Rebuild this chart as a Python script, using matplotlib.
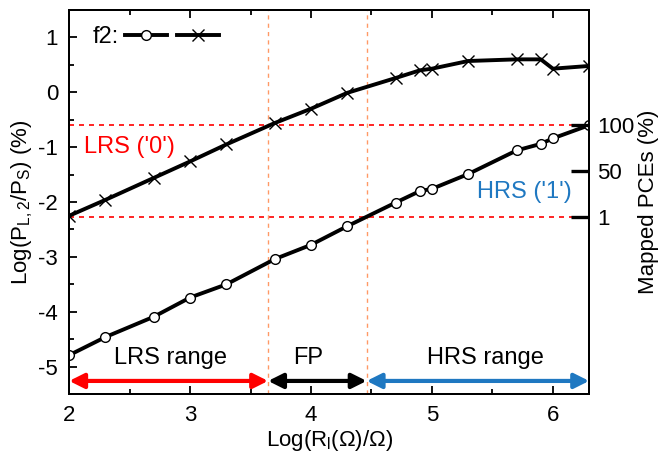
import numpy as np
import matplotlib.pyplot as plt
from matplotlib.legend_handler import HandlerTuple
from matplotlib.ticker import MultipleLocator

plt.rcParams['font.family'] = ['Liberation Sans', 'DejaVu Sans']
plt.rcParams['font.size'] = 16
plt.rcParams['axes.unicode_minus'] = False
plt.rcParams['mathtext.fontset'] = 'custom'
plt.rcParams['mathtext.rm'] = 'Liberation Sans'
plt.rcParams['mathtext.it'] = 'Liberation Sans'

# Log(R_l) values
log_r = [2.0, 2.3, 2.7, 3.0, 3.3, 3.7, 4.0, 4.3, 4.7, 4.9, 5.0, 5.3, 5.7, 5.9, 6.0, 6.3]
# f2, circle series
f2_circ = [-4.79, -4.46, -4.09, -3.74, -3.50, -3.04, -2.78, -2.44, -2.01, -1.80,
           -1.76, -1.49, -1.06, -0.94, -0.84, -0.60]
# f2, cross series
f2_cross = [-2.25, -1.96, -1.56, -1.26, -0.95, -0.56, -0.30, -0.01, 0.26, 0.40,
            0.43, 0.57, 0.60, 0.60, 0.43, 0.48]

lrs_level = -0.60
hrs_level = -2.27
fp_lo = 3.645
fp_hi = 4.46
xmin, xmax = 2.0, 6.3
ymin, ymax = -5.5, 1.5
pce_ticks = [1, 50, 100]

fig = plt.figure(figsize=(6.59, 4.53), dpi=100)
ax = fig.add_axes([0.105, 0.130, 0.789, 0.848])

ax.axhline(lrs_level, color='red', ls=(0, (3, 3)), lw=1.2, zorder=1)
ax.axhline(hrs_level, color='red', ls=(0, (3, 3)), lw=1.2, zorder=1)
ax.axvline(fp_lo, color='#ff9966', ls=(0, (3, 3)), lw=1.0, zorder=1)
ax.axvline(fp_hi, color='#ff9966', ls=(0, (3, 3)), lw=1.0, zorder=1)

l1, = ax.plot(log_r, f2_circ, color='black', lw=2.8, marker='o', ms=7,
              mfc='white', mec='black', mew=1.0, zorder=3)
l2, = ax.plot(log_r, f2_cross, color='black', lw=2.8, marker='x', ms=9,
              mew=1.0, zorder=3)

ax.set_xlim(xmin, xmax)
ax.set_ylim(ymin, ymax)
ax.xaxis.set_major_locator(MultipleLocator(1))
ax.xaxis.set_minor_locator(MultipleLocator(0.5))
ax.yaxis.set_major_locator(MultipleLocator(1))
ax.yaxis.set_minor_locator(MultipleLocator(0.5))
ax.tick_params(which='both', direction='in', top=True, right=False, width=1.3)
ax.tick_params(which='major', length=6, pad=8, labelsize=16)
ax.tick_params(which='minor', length=3.5)
for s in ax.spines.values():
    s.set_linewidth(1.4)

ax.set_xlabel(r'Log(R$_\mathregular{l}$($\Omega$)/$\Omega$)', labelpad=1, fontsize=16)
ax.set_ylabel(r'Log(P$_\mathregular{L,2}$/P$_\mathregular{S}$) (%)', labelpad=2, fontsize=16)

# range arrows
arrow_y = -5.26
for a, b, c in [(xmin, fp_lo, 'red'), (fp_lo, fp_hi, 'black'), (fp_hi, xmax, '#1f78c1')]:
    ax.annotate('', xy=(a, arrow_y), xytext=(b, arrow_y),
                arrowprops=dict(arrowstyle='<|-|>', color=c, lw=3,
                                mutation_scale=22, shrinkA=0, shrinkB=0))
ax.text(2.84, -4.84, 'LRS range', ha='center', va='center', fontsize=17)
ax.text(3.98, -4.84, 'FP', ha='center', va='center', fontsize=17)
ax.text(5.44, -4.84, 'HRS range', ha='center', va='center', fontsize=17)

ax.text(2.12, -1.0, "LRS ('0')", color='red', ha='left', va='center', fontsize=17)
ax.text(5.37, -1.82, "HRS ('1')", color='#1f78c1', ha='left', va='center', fontsize=17)

leg = ax.legend(handles=[(l1, l2)], labels=['f2:'], loc='center left',
                bbox_to_anchor=(0.045, (1 - ymin) / (ymax - ymin)),
                handler_map={tuple: HandlerTuple(ndivide=None, pad=0.4)},
                markerfirst=False, frameon=False, handlelength=4.0,
                handletextpad=0.25, borderpad=0, borderaxespad=0, fontsize=17)

# right axis: mapped PCEs, linear map 1 -> hrs_level, 100 -> lrs_level
slope = (pce_ticks[-1] - pce_ticks[0]) / (lrs_level - hrs_level)
ax2 = ax.twinx()
ax2.set_ylim(pce_ticks[0] + (ymin - hrs_level) * slope,
             pce_ticks[0] + (ymax - hrs_level) * slope)
ax2.set_yticks(pce_ticks)
ax2.set_yticklabels([str(v) for v in pce_ticks])
ax2.tick_params(direction='in', length=13, width=2.4, pad=6, labelsize=16)
ax2.set_ylabel('Mapped PCEs (%)', labelpad=2, fontsize=16)
for s in ax2.spines.values():
    s.set_linewidth(1.4)

fig.savefig('out.png', dpi=100)
